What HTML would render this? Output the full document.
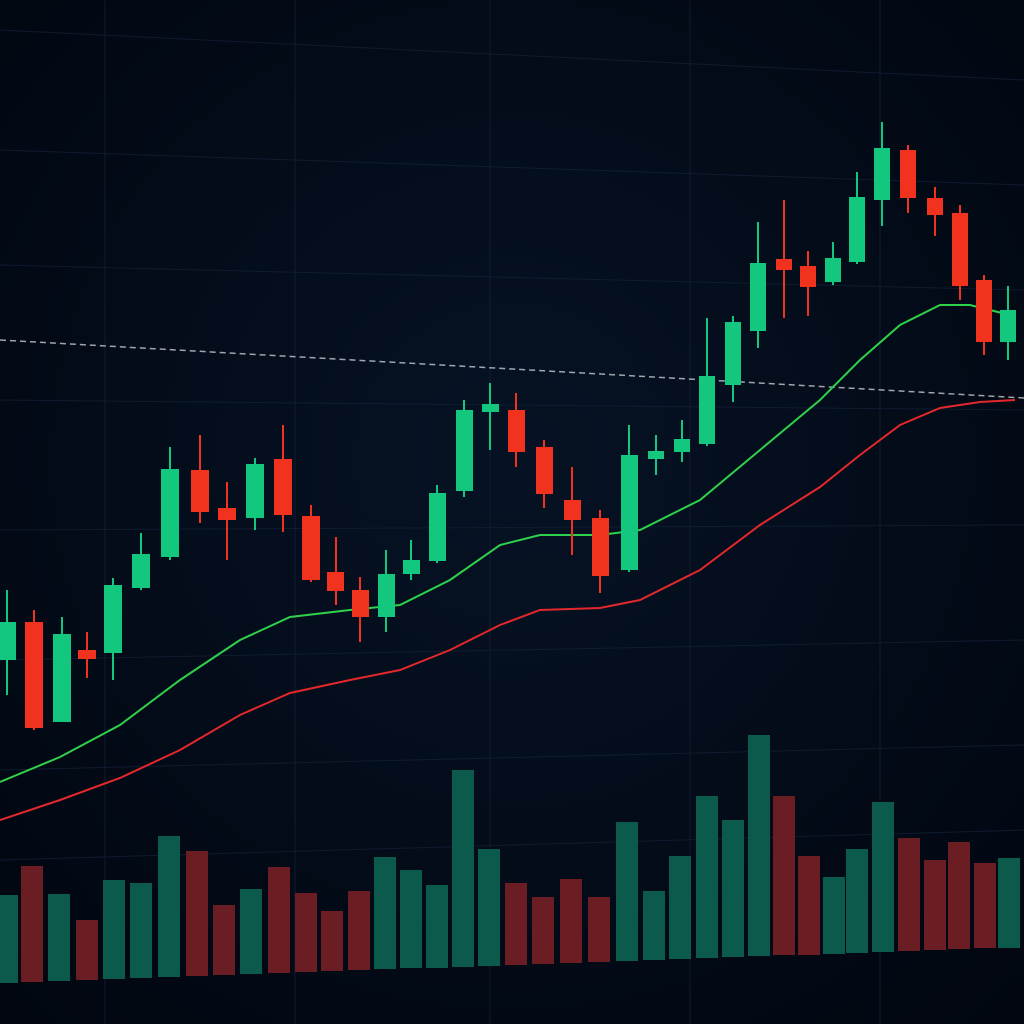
<!DOCTYPE html>
<html><head><meta charset="utf-8"><style>html,body{margin:0;padding:0;background:#020a18;}svg{display:block}</style></head>
<body>
<svg width="1024" height="1024" viewBox="0 0 1024 1024" xmlns="http://www.w3.org/2000/svg">
<defs>
<radialGradient id="bg" cx="50%" cy="45%" r="75%"><stop offset="0" stop-color="#061224"/><stop offset="1" stop-color="#01060f"/></radialGradient>
</defs>
<rect width="1024" height="1024" fill="url(#bg)"/>
<g stroke="#14233a" stroke-width="1" opacity="0.7">
<line x1="0" y1="30" x2="1024" y2="80"/>
<line x1="0" y1="150" x2="1024" y2="185"/>
<line x1="0" y1="265" x2="1024" y2="290"/>
<line x1="0" y1="400" x2="1024" y2="410"/>
<line x1="0" y1="530" x2="1024" y2="525"/>
<line x1="0" y1="660" x2="1024" y2="640"/>
<line x1="0" y1="770" x2="1024" y2="745"/>
<line x1="0" y1="860" x2="1024" y2="830"/>
<line x1="105" y1="0" x2="105" y2="1024"/>
<line x1="295" y1="0" x2="295" y2="1024"/>
<line x1="490" y1="0" x2="490" y2="1024"/>
<line x1="690" y1="0" x2="690" y2="1024"/>
<line x1="880" y1="0" x2="880" y2="1024"/>
</g>
<line x1="0" y1="340" x2="1024" y2="398" stroke="#c8ccd2" stroke-width="1.5" stroke-dasharray="6,4" opacity="0.8"/>
<g>
<rect x="-4" y="895" width="22" height="88" fill="#0c5a4b"/>
<rect x="21" y="866" width="22" height="116" fill="#6a1d22"/>
<rect x="48" y="894" width="22" height="87" fill="#0c5a4b"/>
<rect x="76" y="920" width="22" height="60" fill="#6a1d22"/>
<rect x="103" y="880" width="22" height="99" fill="#0c5a4b"/>
<rect x="130" y="883" width="22" height="95" fill="#0c5a4b"/>
<rect x="158" y="836" width="22" height="141" fill="#0c5a4b"/>
<rect x="186" y="851" width="22" height="125" fill="#6a1d22"/>
<rect x="213" y="905" width="22" height="70" fill="#6a1d22"/>
<rect x="240" y="889" width="22" height="85" fill="#0c5a4b"/>
<rect x="268" y="867" width="22" height="106" fill="#6a1d22"/>
<rect x="295" y="893" width="22" height="79" fill="#6a1d22"/>
<rect x="321" y="911" width="22" height="60" fill="#6a1d22"/>
<rect x="348" y="891" width="22" height="79" fill="#6a1d22"/>
<rect x="374" y="857" width="22" height="112" fill="#0c5a4b"/>
<rect x="400" y="870" width="22" height="98" fill="#0c5a4b"/>
<rect x="426" y="885" width="22" height="83" fill="#0c5a4b"/>
<rect x="452" y="770" width="22" height="197" fill="#0c5a4b"/>
<rect x="478" y="849" width="22" height="117" fill="#0c5a4b"/>
<rect x="505" y="883" width="22" height="82" fill="#6a1d22"/>
<rect x="532" y="897" width="22" height="67" fill="#6a1d22"/>
<rect x="560" y="879" width="22" height="84" fill="#6a1d22"/>
<rect x="588" y="897" width="22" height="65" fill="#6a1d22"/>
<rect x="616" y="822" width="22" height="139" fill="#0c5a4b"/>
<rect x="643" y="891" width="22" height="69" fill="#0c5a4b"/>
<rect x="669" y="856" width="22" height="103" fill="#0c5a4b"/>
<rect x="696" y="796" width="22" height="162" fill="#0c5a4b"/>
<rect x="722" y="820" width="22" height="137" fill="#0c5a4b"/>
<rect x="748" y="735" width="22" height="221" fill="#0c5a4b"/>
<rect x="773" y="796" width="22" height="159" fill="#6a1d22"/>
<rect x="798" y="856" width="22" height="99" fill="#6a1d22"/>
<rect x="823" y="877" width="22" height="77" fill="#0c5a4b"/>
<rect x="846" y="849" width="22" height="104" fill="#0c5a4b"/>
<rect x="872" y="802" width="22" height="150" fill="#0c5a4b"/>
<rect x="898" y="838" width="22" height="113" fill="#6a1d22"/>
<rect x="924" y="860" width="22" height="90" fill="#6a1d22"/>
<rect x="948" y="842" width="22" height="107" fill="#6a1d22"/>
<rect x="974" y="863" width="22" height="85" fill="#6a1d22"/>
<rect x="998" y="858" width="22" height="90" fill="#0c5a4b"/>
</g>
<polyline fill="none" stroke="#2fd04a" stroke-width="2" points="0,782 60,757 120,725 180,680 240,640 290,617 350,610 400,605 450,580 500,545 540,535 600,535 640,530 700,500 760,450 820,400 860,360 900,325 940,305 970,305 1010,315"/>
<polyline fill="none" stroke="#e3282b" stroke-width="2" points="0,820 60,800 120,778 180,750 240,715 290,693 350,680 400,670 450,650 500,625 540,610 600,608 640,600 700,570 760,525 820,487 860,455 900,425 940,408 980,402 1015,400"/>
<g stroke-width="2">
<g stroke="#14c77e" fill="#14c77e"><line x1="7" y1="590" x2="7" y2="695"/><rect x="-2" y="622" width="18" height="38" stroke="none"/></g>
<g stroke="#f0321f" fill="#f0321f"><line x1="34" y1="610" x2="34" y2="730"/><rect x="25" y="622" width="18" height="106" stroke="none"/></g>
<g stroke="#14c77e" fill="#14c77e"><line x1="62" y1="617" x2="62" y2="722"/><rect x="53" y="634" width="18" height="88" stroke="none"/></g>
<g stroke="#f0321f" fill="#f0321f"><line x1="87" y1="632" x2="87" y2="678"/><rect x="78" y="650" width="18" height="9" stroke="none"/></g>
<g stroke="#14c77e" fill="#14c77e"><line x1="113" y1="578" x2="113" y2="680"/><rect x="104" y="585" width="18" height="68" stroke="none"/></g>
<g stroke="#14c77e" fill="#14c77e"><line x1="141" y1="533" x2="141" y2="590"/><rect x="132" y="554" width="18" height="34" stroke="none"/></g>
<g stroke="#14c77e" fill="#14c77e"><line x1="170" y1="447" x2="170" y2="560"/><rect x="161" y="469" width="18" height="88" stroke="none"/></g>
<g stroke="#f0321f" fill="#f0321f"><line x1="200" y1="435" x2="200" y2="523"/><rect x="191" y="470" width="18" height="42" stroke="none"/></g>
<g stroke="#f0321f" fill="#f0321f"><line x1="227" y1="482" x2="227" y2="560"/><rect x="218" y="508" width="18" height="12" stroke="none"/></g>
<g stroke="#14c77e" fill="#14c77e"><line x1="255" y1="458" x2="255" y2="530"/><rect x="246" y="464" width="18" height="54" stroke="none"/></g>
<g stroke="#f0321f" fill="#f0321f"><line x1="283" y1="425" x2="283" y2="532"/><rect x="274" y="459" width="18" height="56" stroke="none"/></g>
<g stroke="#f0321f" fill="#f0321f"><line x1="311" y1="505" x2="311" y2="582"/><rect x="302" y="516" width="18" height="64" stroke="none"/></g>
<g stroke="#f0321f" fill="#f0321f"><line x1="336" y1="537" x2="336" y2="605"/><rect x="327" y="572" width="17" height="19" stroke="none"/></g>
<g stroke="#f0321f" fill="#f0321f"><line x1="360" y1="577" x2="360" y2="642"/><rect x="352" y="590" width="17" height="27" stroke="none"/></g>
<g stroke="#14c77e" fill="#14c77e"><line x1="386" y1="550" x2="386" y2="632"/><rect x="378" y="574" width="17" height="43" stroke="none"/></g>
<g stroke="#14c77e" fill="#14c77e"><line x1="411" y1="540" x2="411" y2="580"/><rect x="403" y="560" width="17" height="14" stroke="none"/></g>
<g stroke="#14c77e" fill="#14c77e"><line x1="437" y1="485" x2="437" y2="563"/><rect x="429" y="493" width="17" height="68" stroke="none"/></g>
<g stroke="#14c77e" fill="#14c77e"><line x1="464" y1="400" x2="464" y2="497"/><rect x="456" y="410" width="17" height="81" stroke="none"/></g>
<g stroke="#14c77e" fill="#14c77e"><line x1="490" y1="383" x2="490" y2="450"/><rect x="482" y="404" width="17" height="8" stroke="none"/></g>
<g stroke="#f0321f" fill="#f0321f"><line x1="516" y1="393" x2="516" y2="467"/><rect x="508" y="410" width="17" height="42" stroke="none"/></g>
<g stroke="#f0321f" fill="#f0321f"><line x1="544" y1="440" x2="544" y2="508"/><rect x="536" y="447" width="17" height="47" stroke="none"/></g>
<g stroke="#f0321f" fill="#f0321f"><line x1="572" y1="467" x2="572" y2="555"/><rect x="564" y="500" width="17" height="20" stroke="none"/></g>
<g stroke="#f0321f" fill="#f0321f"><line x1="600" y1="510" x2="600" y2="593"/><rect x="592" y="518" width="17" height="58" stroke="none"/></g>
<g stroke="#14c77e" fill="#14c77e"><line x1="629" y1="425" x2="629" y2="572"/><rect x="621" y="455" width="17" height="115" stroke="none"/></g>
<g stroke="#14c77e" fill="#14c77e"><line x1="656" y1="435" x2="656" y2="475"/><rect x="648" y="451" width="16" height="8" stroke="none"/></g>
<g stroke="#14c77e" fill="#14c77e"><line x1="682" y1="420" x2="682" y2="462"/><rect x="674" y="439" width="16" height="13" stroke="none"/></g>
<g stroke="#14c77e" fill="#14c77e"><line x1="707" y1="318" x2="707" y2="446"/><rect x="699" y="376" width="16" height="68" stroke="none"/></g>
<g stroke="#14c77e" fill="#14c77e"><line x1="733" y1="316" x2="733" y2="402"/><rect x="725" y="322" width="16" height="63" stroke="none"/></g>
<g stroke="#14c77e" fill="#14c77e"><line x1="758" y1="222" x2="758" y2="348"/><rect x="750" y="263" width="16" height="68" stroke="none"/></g>
<g stroke="#f0321f" fill="#f0321f"><line x1="784" y1="200" x2="784" y2="318"/><rect x="776" y="259" width="16" height="11" stroke="none"/></g>
<g stroke="#f0321f" fill="#f0321f"><line x1="808" y1="251" x2="808" y2="316"/><rect x="800" y="266" width="16" height="21" stroke="none"/></g>
<g stroke="#14c77e" fill="#14c77e"><line x1="833" y1="242" x2="833" y2="285"/><rect x="825" y="258" width="16" height="24" stroke="none"/></g>
<g stroke="#14c77e" fill="#14c77e"><line x1="857" y1="172" x2="857" y2="264"/><rect x="849" y="197" width="16" height="65" stroke="none"/></g>
<g stroke="#14c77e" fill="#14c77e"><line x1="882" y1="122" x2="882" y2="226"/><rect x="874" y="148" width="16" height="52" stroke="none"/></g>
<g stroke="#f0321f" fill="#f0321f"><line x1="908" y1="145" x2="908" y2="213"/><rect x="900" y="150" width="16" height="48" stroke="none"/></g>
<g stroke="#f0321f" fill="#f0321f"><line x1="935" y1="187" x2="935" y2="236"/><rect x="927" y="198" width="16" height="17" stroke="none"/></g>
<g stroke="#f0321f" fill="#f0321f"><line x1="960" y1="205" x2="960" y2="300"/><rect x="952" y="213" width="16" height="73" stroke="none"/></g>
<g stroke="#f0321f" fill="#f0321f"><line x1="984" y1="275" x2="984" y2="355"/><rect x="976" y="280" width="16" height="62" stroke="none"/></g>
<g stroke="#14c77e" fill="#14c77e"><line x1="1008" y1="286" x2="1008" y2="360"/><rect x="1000" y="310" width="16" height="32" stroke="none"/></g>
</g>
</svg>
</body></html>
